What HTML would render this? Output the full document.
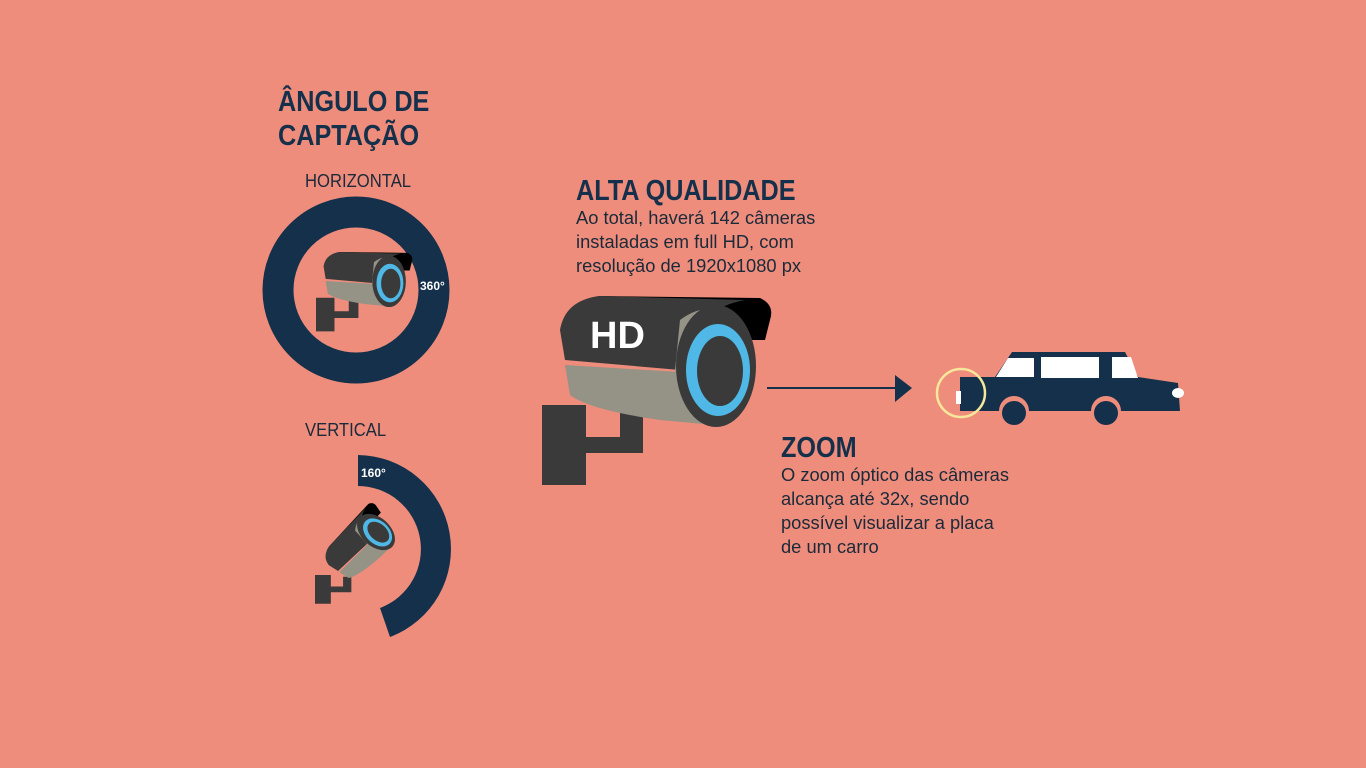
<!DOCTYPE html>
<html><head><meta charset="utf-8"><style>
body{margin:0;width:1366px;height:768px;background:#EF8D7C;overflow:hidden;position:relative;font-family:"Liberation Sans",sans-serif;color:#14304A}
.t{position:absolute;white-space:nowrap;transform-origin:0 0}
.h{font-weight:bold;font-size:29px;line-height:34px;transform:scaleX(0.87)}
.p{font-size:18.5px;line-height:24px;color:#1a2a3a;transform:scaleX(0.99)}
</style></head><body>
<div class="t h" style="left:278px;top:85px">ÂNGULO DE<br>CAPTAÇÃO</div>
<div class="t p" style="left:305px;top:169px;transform:scaleX(0.9)">HORIZONTAL</div>
<div class="t p" style="left:305px;top:418px;transform:scaleX(0.9)">VERTICAL</div>
<div class="t h" style="left:576px;top:174px">ALTA QUALIDADE</div>
<div class="t p" style="left:576px;top:206px">Ao total, haverá 142 câmeras<br>instaladas em full HD, com<br>resolução de 1920x1080 px</div>
<div class="t h" style="left:781px;top:431px">ZOOM</div>
<div class="t p" style="left:781px;top:463px">O zoom óptico das câmeras<br>alcança até 32x, sendo<br>possível visualizar a placa<br>de um carro</div>
<svg width="1366" height="768" style="position:absolute;left:0;top:0">
<defs>
<path id="br" d="M542 405 H586 V437 H620 V410 H643 V453 H586 V485 H542 Z" fill="#3a3a3a"/>
<g id="body">
 <path d="M565 350 Q560 300 600 296 L760 298 Q775 305 770 320 L765 340 L700 340 Z" fill="#000"/>
 <path d="M565 360 L560 330 Q565 300 600 296 L745 300 Q690 310 680 370 Z" fill="#3a3a3a"/>
 <path d="M565 365 L680 372 L715 425 L660 420 Q590 410 570 395 Z" fill="#959286"/>
 <path d="M680 320 Q700 305 720 310 L715 425 Q690 420 675 370 Z" fill="#959286"/>
 <ellipse cx="716" cy="366" rx="40" ry="61" fill="#3a3a3a"/>
 <ellipse cx="718" cy="370" rx="32" ry="46" fill="#4fb8e6"/>
 <ellipse cx="720" cy="371" rx="23" ry="35" fill="#3a3a3a"/>
</g>
</defs>
<circle cx="356" cy="290" r="78" fill="none" stroke="#14304A" stroke-width="31"/>
<text x="420" y="290" font-family="Liberation Sans" font-weight="bold" font-size="12" fill="#fff">360°</text>
<path d="M358 455 A94 94 0 0 1 390 637 L380 608 A63 63 0 0 0 358 486 Z" fill="#14304A"/>
<text x="361" y="477" font-family="Liberation Sans" font-weight="bold" font-size="12" fill="#fff">160°</text>
<g transform="translate(316,252) scale(0.42) translate(-542,-296)"><use href="#br"/><use href="#body"/></g>
<g transform="translate(315,575) scale(0.36) translate(-542,-405)"><use href="#br"/></g>
<g transform="translate(376,532) rotate(-48) scale(0.36) translate(-716,-366)"><use href="#body"/></g>
<use href="#br"/><use href="#body"/>
<text x="590" y="348" font-family="Liberation Sans" font-weight="bold" font-size="38" fill="#fff">HD</text>
<line x1="767" y1="388" x2="897" y2="388" stroke="#14304A" stroke-width="2"/>
<polygon points="895,375 912,388 895,402" fill="#14304A"/>
<path d="M960 377 L995 377 L1012 352 L1125 352 L1138 377 L1178 383 L1180 411 L960 411 Z" fill="#14304A"/>
<polygon points="996,377 1008,358 1034,358 1034,377" fill="#fff"/>
<rect x="1041" y="357" width="58" height="21" fill="#fff"/>
<polygon points="1112,357 1131,357 1138,378 1112,378" fill="#fff"/>
<ellipse cx="1178" cy="393" rx="6" ry="5" fill="#fff"/>
<circle cx="1014" cy="411" r="15" fill="#EF8D7C"/><circle cx="1014" cy="413" r="12" fill="#14304A"/>
<circle cx="1106" cy="411" r="15" fill="#EF8D7C"/><circle cx="1106" cy="413" r="12" fill="#14304A"/>
<rect x="956" y="391" width="5" height="13" fill="#fff"/>
<circle cx="961" cy="393" r="24" fill="none" stroke="#f6e79a" stroke-width="2.5"/>
</svg>
</body></html>
